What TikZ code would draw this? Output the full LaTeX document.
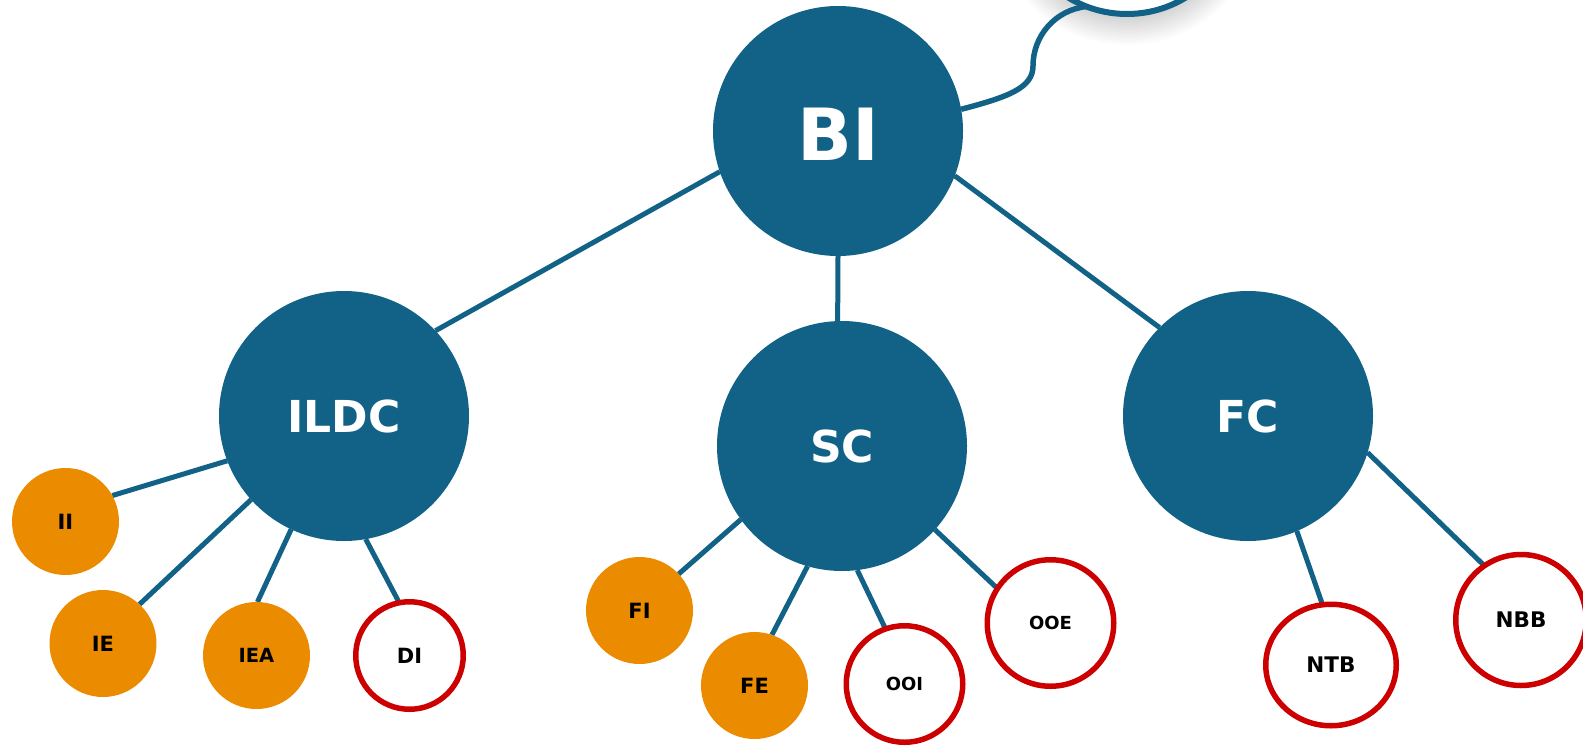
\documentclass[tikz,border=0pt]{standalone}
\usepackage{fontspec}
\setmainfont{DejaVu Sans}
\usetikzlibrary{shapes.geometric,backgrounds}
\definecolor{nblue}{RGB}{17,98,134}
\definecolor{norange}{RGB}{235,139,0}
\definecolor{nred}{RGB}{204,0,0}
\begin{document}
\begin{tikzpicture}[x=1pt,y=-1pt,
  big/.style={circle,fill=nblue,minimum size=250pt,inner sep=0pt,outer sep=0pt,text=white,font=\fontsize{44}{52}\selectfont\bfseries},
  leaf/.style={circle,fill=norange,minimum size=107pt,inner sep=0pt,outer sep=0pt,font=\fontsize{21}{25}\selectfont\bfseries},
  openleaf/.style={draw=nred,line width=5.5pt,fill=white,inner sep=0pt,outer sep=0pt,font=\fontsize{21}{25}\selectfont\bfseries},
  link/.style={draw=nblue,line width=5pt}]
\useasboundingbox (0,0) rectangle (1583,745);

% top-right partial node
\node[circle,draw=nblue,line width=6pt,fill=white,minimum size=226pt,inner sep=0pt,outer sep=0pt] (ext) at (1127,-99) {};

% main nodes
\node[big,font=\fontsize{72}{86}\selectfont\bfseries,text height=59pt,text depth=0pt] (BI) at (838,131) {BI};
\node[big] (ILDC) at (344,416) {ILDC};
\node[big] (SC) at (842,446) {SC};
\node[big] (FC) at (1248,416) {FC};

\node[leaf] (II) at (65.5,521.5) {II};
\node[leaf] (IE) at (103,643.5) {IE};
\node[leaf,font=\fontsize{19.5}{23}\selectfont\bfseries] (IEA) at (256.5,655.5) {IEA};
\node[openleaf,circle,minimum size=107.5pt] (DI) at (409.5,655.5) {DI};

\node[leaf] (FI) at (639.5,610.5) {FI};
\node[leaf] (FE) at (754.5,685.5) {FE};
\node[openleaf,circle,minimum size=116.5pt,font=\fontsize{18}{22}\selectfont\bfseries] (OOI) at (904.5,684) {OOI};
\node[openleaf,circle,minimum size=126.5pt,font=\fontsize{18}{22}\selectfont\bfseries] (OOE) at (1050.5,623) {OOE};

\node[openleaf,ellipse,minimum width=130.5pt,minimum height=121.5pt,font=\fontsize{21.5}{25}\selectfont\bfseries] (NTB) at (1331,665) {NTB};
\node[openleaf,ellipse,minimum width=130.5pt,minimum height=131pt,font=\fontsize{21.5}{25}\selectfont\bfseries] (NBB) at (1521,620) {NBB};

\begin{scope}[on background layer]
  \foreach \i in {0,...,16} {
    \fill[black,opacity=0.012] (1127,-91) circle ({104+2*\i});
  }
  \draw[link] (BI.199) -- (ILDC.43);
  \draw[link] (BI.270) -- (SC.92);
  \draw[link] (BI.339) -- (FC.135);
  \draw[link] (ILDC.201) -- (II.29);
  \draw[link] (ILDC.222) -- (IE.47);
  \draw[link] (ILDC.245) -- (IEA.89);
  \draw[link] (ILDC.280) -- (DI.101);
  \draw[link] (SC.216) -- (FI.43);
  \draw[link] (SC.254) -- (FE.71);
  \draw[link] (SC.277) -- (OOI.109);
  \draw[link] (SC.318) -- (OOE.147);
  \draw[link] (FC.293) -- (NTB.98);
  \draw[link] (FC.343) -- (NBB.124);
  \draw[link,line width=5.5pt] (BI.10) .. controls (1008,97) and (1033,88) .. (1033,66) .. controls (1033,36) and (1055,10) .. (ext.249);
\end{scope}
\end{tikzpicture}
\end{document}
